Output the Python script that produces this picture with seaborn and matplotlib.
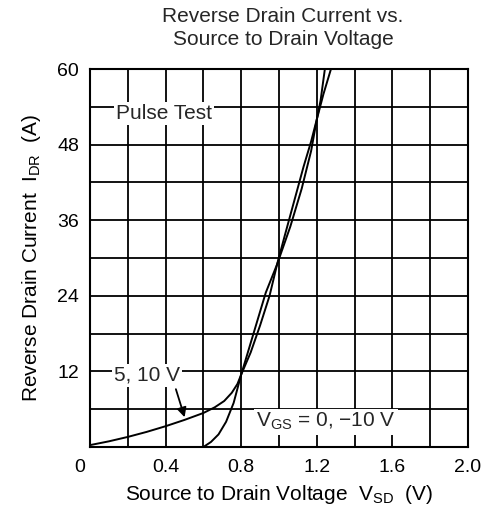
import matplotlib

matplotlib.use("Agg")
import matplotlib.pyplot as plt
import matplotlib.transforms as mtransforms
import numpy as np
import pandas as pd
import seaborn as sns

# curve for V_GS = 5, 10 V
vsd_on = [0.0, 0.1, 0.2, 0.3, 0.4, 0.5, 0.6, 0.66, 0.71, 0.75, 0.78, 0.8, 0.85, 0.9, 0.95,
          0.99, 1.03, 1.08, 1.13, 1.17, 1.2, 1.22, 1.245]
idr_on = [0.3, 0.9, 1.6, 2.4, 3.3, 4.3, 5.4, 6.3, 7.3, 8.6, 10.0, 11.5, 15.0, 19.3, 24.0,
          29.0, 33.5, 39.0, 44.5, 48.5, 52.0, 55.0, 60.5]

# curve for V_GS = 0, -10 V
vsd_off = [0.6, 0.64, 0.68, 0.72, 0.76, 0.8, 0.835, 0.88, 0.93, 0.99, 1.06, 1.12, 1.17,
           1.2, 1.235, 1.28]
idr_off = [0.0, 0.8, 2.0, 4.0, 7.0, 11.5, 15.0, 19.5, 24.5, 29.0, 35.0, 41.0, 47.0,
           52.0, 56.0, 60.5]

x_ticks = [0, 0.4, 0.8, 1.2, 1.6, 2.0]
x_tick_labels = ["0", "0.4", "0.8", "1.2", "1.6", "2.0"]
y_ticks = [12, 24, 36, 48, 60]
y_tick_labels = ["12", "24", "36", "48", "60"]

sns.set_theme(style="white")
plt.rcParams["font.family"] = ["Liberation Sans", "DejaVu Sans"]
plt.rcParams["mathtext.fontset"] = "custom"
plt.rcParams["mathtext.rm"] = "Liberation Sans"
plt.rcParams["mathtext.it"] = "Liberation Sans"

fig, ax = plt.subplots(figsize=(4.86, 5.17), dpi=100)
fig.subplots_adjust(left=90 / 486, right=468 / 486, bottom=1 - 447 / 517, top=1 - 69 / 517)

on_df = pd.DataFrame({"vsd": vsd_on, "idr": idr_on})
off_df = pd.DataFrame({"vsd": vsd_off, "idr": idr_off})
sns.lineplot(data=on_df, x="vsd", y="idr", ax=ax, color="black", lw=1.4, sort=False)
sns.lineplot(data=off_df, x="vsd", y="idr", ax=ax, color="black", lw=1.4, sort=False)

ax.set_xlim(0, 2.0)
ax.set_ylim(0, 60)
ax.set_xticks(np.arange(0, 2.01, 0.2), minor=True)
ax.set_yticks(np.arange(0, 60.1, 6), minor=True)
ax.set_xticks(x_ticks)
ax.set_xticklabels(x_tick_labels)
ax.set_yticks(y_ticks)
ax.set_yticklabels(y_tick_labels)
ax.grid(which="both", color="black", lw=1.3)
ax.tick_params(which="both", length=0, labelsize=14, colors="black")
ax.tick_params(axis="x", pad=9)
ax.tick_params(axis="y", pad=8)
for spine in ax.spines.values():
    spine.set_color("black")
    spine.set_linewidth(1.5)

# the corner "0" sits left of the axis origin
zero_label = ax.get_xticklabels()[0]
zero_label.set_transform(zero_label.get_transform()
                         + mtransforms.ScaledTranslation(-10 / 100, 0, fig.dpi_scale_trans))

ax.set_xlabel(r"Source to Drain Voltage  V$_{SD}$  (V)", fontsize=15, color="black", labelpad=5)
ax.set_ylabel(r"Reverse Drain Current  I$_{DR}$  (A)", fontsize=15, color="black", labelpad=10)

fig.text(283 / 486, 1 - 28 / 517, "Reverse Drain Current vs.\nSource to Drain Voltage",
         ha="center", va="center", fontsize=15, linespacing=1.25)

box = dict(facecolor="white", edgecolor="none", pad=1.5)
ax.text(0.39, 53, "Pulse Test", ha="center", va="center", fontsize=15, bbox=box)
ax.text(0.30, 11.4, "5, 10 V", ha="center", va="center", fontsize=15, bbox=box)
ax.text(1.25, 4.0, r"V$_{GS}$ = 0, −10 V", ha="center", va="center", fontsize=15, bbox=box)
ax.annotate("", xy=(0.505, 4.3), xytext=(0.45, 9.6),
            arrowprops=dict(arrowstyle="-|>", color="black", lw=1.3, mutation_scale=14))

fig.savefig("out.png", dpi=100)
